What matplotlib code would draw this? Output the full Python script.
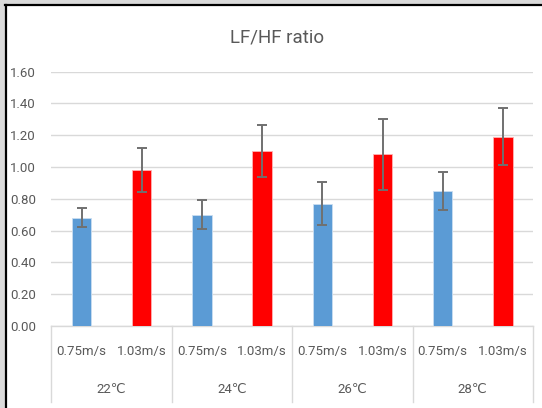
import matplotlib
matplotlib.use("Agg")
import matplotlib.pyplot as plt
from matplotlib.lines import Line2D
from matplotlib.patches import Rectangle
import numpy as np

# data
temps = ["22℃", "24℃", "26℃", "28℃"]
speeds = ["0.75m/s", "1.03m/s"]
slow_vals = [0.68, 0.70, 0.77, 0.85]
slow_err = [0.06, 0.09, 0.135, 0.12]
fast_vals = [0.98, 1.10, 1.08, 1.19]
fast_err = [0.14, 0.165, 0.225, 0.18]
yticks = [0.0, 0.2, 0.4, 0.6, 0.8, 1.0, 1.2, 1.4, 1.6]

plt.rcParams['font.family'] = ['Roboto', 'DejaVu Sans']
txt = '#595959'

W, H = 542, 408
fig = plt.figure(figsize=(W / 100, H / 100), dpi=100)
ax = fig.add_axes([51.4 / W, 1 - 326 / H, (533 - 51.4) / W, (326 - 71.6) / H])

# bar positions: each temperature group holds two slots
n = len(temps)
x_slow = np.arange(n) * 2 + 0.5
x_fast = np.arange(n) * 2 + 1.5
bw = 0.32
err_kw = dict(ecolor='#707070', elinewidth=1.4, capsize=3.5, capthick=1.4)
ax.bar(x_slow, slow_vals, bw, yerr=slow_err, color='#5B9BD5',
       edgecolor='#C9DDF1', linewidth=0.6, error_kw=err_kw, zorder=3)
ax.bar(x_fast, fast_vals, bw, yerr=fast_err, color='#FF0000',
       edgecolor='#FFB3B3', linewidth=0.6, error_kw=err_kw, zorder=3)

ax.set_xlim(0, 2 * n)
ax.set_ylim(0, 1.6)
ax.set_yticks(yticks)
ax.set_yticklabels([f"{v:.2f}" for v in yticks])
ax.yaxis.grid(True, color='#D9D9D9', linewidth=1)
ax.set_axisbelow(True)
ax.tick_params(axis='y', length=0, pad=11, labelsize=9.5, labelcolor=txt)

# speed labels as x ticks
ax.set_xticks(np.concatenate([x_slow, x_fast]))
ax.set_xticklabels([speeds[0]] * n + [speeds[1]] * n)
ax.tick_params(axis='x', length=0, pad=14, labelsize=9.5, labelcolor=txt)

for s in ['top', 'right', 'left']:
    ax.spines[s].set_visible(False)
ax.spines['bottom'].set_color('#D9D9D9')
ax.spines['bottom'].set_linewidth(1)

# temperature labels and group separators
trans = ax.get_xaxis_transform()
for i, t in enumerate(temps):
    ax.text(2 * i + 1, -0.248, t, transform=trans, ha='center', va='center',
            fontsize=9.5, color=txt)
for i in range(n + 1):
    ax.add_line(Line2D([2 * i, 2 * i], [0, -0.30], transform=trans,
                       color='#D9D9D9', linewidth=1, clip_on=False))

fig.text(277 / W, 1 - 37 / H, "LF/HF ratio", ha='center', va='center',
         fontsize=13.5, color=txt)

# outer frame bits visible in the crop
fig.add_artist(Rectangle((0, 1 - 3.5 / H), 1, 3.5 / H, transform=fig.transFigure,
                         color='#DADADA', lw=0))
fig.add_artist(Rectangle((0, 0), 5 / W, 1, transform=fig.transFigure,
                         color='#DADADA', lw=0))
fig.add_artist(Line2D([5 / W, 1], [1 - 4.5 / H, 1 - 4.5 / H], transform=fig.transFigure,
                      color='black', linewidth=1.6))
fig.add_artist(Line2D([6.3 / W, 6.3 / W], [0, 1 - 4.5 / H], transform=fig.transFigure,
                      color='black', linewidth=1.6))

fig.savefig("out.png", dpi=100)
